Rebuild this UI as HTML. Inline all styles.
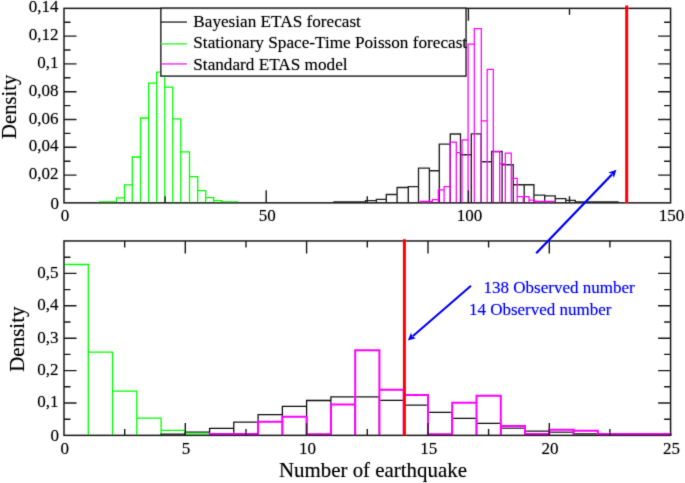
<!DOCTYPE html>
<html><head><meta charset="utf-8"><style>
html,body{margin:0;padding:0;background:#fff;}
svg{display:block;}
</style></head><body>
<svg width="685" height="483" viewBox="0 0 685 483">
<defs><filter id="bl" filterUnits="userSpaceOnUse" x="0" y="0" width="685" height="483"><feConvolveMatrix order="3" kernelMatrix="0.0113 0.0838 0.0113 0.0838 0.6193 0.0838 0.0113 0.0838 0.0113" edgeMode="duplicate"/></filter><filter id="bt" filterUnits="userSpaceOnUse" x="0" y="0" width="685" height="483"><feConvolveMatrix order="3" kernelMatrix="0.0113 0.0838 0.0113 0.0838 0.6193 0.0838 0.0113 0.0838 0.0113" edgeMode="none" preserveAlpha="false"/><feComponentTransfer><feFuncA type="gamma" amplitude="1" exponent="0.8" offset="0"/></feComponentTransfer></filter></defs>
<rect width="685" height="483" fill="#fff"/>
<g filter="url(#bl)">
<path d="M99.4 202.8V201.9H116.5V202.8M116.5 202.8V197.8H124.5V202.8M124.5 202.8V184.9H132.3V202.8M132.3 202.8V157.0H140.5V202.8M140.5 202.8V118.0H148.6V202.8M148.6 202.8V83.2H156.7V202.8M156.7 202.8V72.2H164.8V202.8M164.8 202.8V87.2H172.8V202.8M172.8 202.8V118.8H180.8V202.8M180.8 202.8V151.9H189.5V202.8M189.5 202.8V176.7H197.7V202.8M197.7 202.8V190.6H205.7V202.8M205.7 202.8V197.7H213.7V202.8M213.7 202.8V200.6H221.7V202.8M221.7 202.8V201.9H237.6V202.8" fill="none" stroke="#00ff00" stroke-width="1.3" stroke-linejoin="miter"/>
<path d="M334.0 202.8V201.8H365.5V202.8M365.5 202.8V200.6H376.4V202.8M376.4 202.8V199.4H386.3V202.8M386.3 202.8V194.5H397.1V202.8M397.1 202.8V187.5H408.3V202.8M408.3 202.8V186.6H418.5V202.8M418.5 202.8V168.1H429.4V202.8M429.4 202.8V170.7H439.3V202.8M439.3 202.8V144.1H450.3V202.8M450.3 202.8V134.0H460.5V202.8M460.5 202.8V154.7H471.3V202.8M471.3 202.8V133.9H481.1V202.8M481.1 202.8V161.7H491.7V202.8M491.7 202.8V151.5H502.1V202.8M502.1 202.8V164.7H513.2V202.8M513.2 202.8V184.7H524.2V202.8M524.2 202.8V184.7H533.9V202.8M533.9 202.8V195.1H544.7V202.8M544.7 202.8V195.9H555.2V202.8M555.2 202.8V198.6H565.8V202.8M565.8 202.8V200.4H575.3V202.8M575.3 202.8V201.8H618.0V202.8" fill="none" stroke="#222" stroke-width="1.35" stroke-linejoin="miter"/>
<path d="M420.2 202.8V201.4H432.4V202.8M432.4 202.8V199.7H438.3V202.8M438.3 202.8V189.9H444.1V202.8M444.1 202.8V186.5H450.1V202.8M450.1 202.8V142.0H456.3V202.8M456.3 202.8V152.7H462.0V202.8M462.0 202.8V139.8H468.1V202.8M468.1 202.8V44.2H474.3V202.8M474.3 202.8V28.6H481.3V202.8M481.3 202.8V120.9H487.2V202.8M487.2 202.8V69.3H493.3V202.8M493.3 202.8V151.5H499.7V202.8M499.7 202.8V163.8H505.3V202.8M505.3 202.8V153.0H511.3V202.8M511.3 202.8V178.4H517.2V202.8M517.2 202.8V196.6H523.2V202.8M523.2 202.8V196.6H529.0V202.8M529.0 202.8V200.2H534.7V202.8M534.7 202.8V201.3H553.9V202.8" fill="none" stroke="#ff00ff" stroke-width="1.25" stroke-linejoin="miter"/>
<path d="M64.0 264.5H88.3V435.4M88.3 435.4V352.2H112.5V435.4M112.5 435.4V391.1H136.8V435.4M136.8 435.4V418.1H161.1V435.4M161.1 435.4V430.3H185.3V435.4M185.3 435.4V433.9H209.6V435.4" fill="none" stroke="#00ff00" stroke-width="1.3" stroke-linejoin="miter"/>
<path d="M161.1 435.4V434.2H185.3V435.4M185.3 435.4V432.2H209.6V435.4M209.6 435.4V428.3H233.8V435.4M233.8 435.4V422.2H258.1V435.4M258.1 435.4V414.7H282.4V435.4M282.4 435.4V406.4H306.6V435.4M306.6 435.4V400.5H330.9V435.4M330.9 435.4V396.8H355.2V435.4M355.2 435.4V396.8H379.4V435.4M379.4 435.4V400.4H403.7V435.4M403.7 435.4V405.2H428.0V435.4M428.0 435.4V412.3H452.2V435.4M452.2 435.4V418.4H476.5V435.4M476.5 435.4V423.3H500.8V435.4M500.8 435.4V428.1H525.0V435.4M525.0 435.4V431.2H549.3V435.4M549.3 435.4V432.2H573.5V435.4M573.5 435.4V433.8H597.8V435.4M597.8 435.4V434.3H622.1V435.4M622.1 435.4V434.3H646.3V435.4M646.3 435.4V434.3H670.6V435.4" fill="none" stroke="#111" stroke-width="1.3" stroke-linejoin="miter"/>
<path d="M209.6 435.4V434.1H233.8V435.4M233.8 435.4V434.1H258.1V435.4M258.1 435.4V421.7H282.4V435.4M282.4 435.4V416.7H306.6V435.4M306.6 435.4V434.2H330.9V435.4M330.9 435.4V404.6H355.2V435.4M355.2 435.4V350.3H379.4V435.4M379.4 435.4V389.8H403.7V435.4M403.7 435.4V394.9H428.0V435.4M428.0 435.4V434.3H452.2V435.4M452.2 435.4V402.7H476.5V435.4M476.5 435.4V395.8H500.8V435.4M500.8 435.4V425.9H525.0V435.4M525.0 435.4V433.9H549.3V435.4M549.3 435.4V429.8H573.5V435.4M573.5 435.4V430.7H597.8V435.4M597.8 435.4V434.0H622.1V435.4M622.1 435.4V434.0H646.3V435.4M646.3 435.4V434.0H670.6V435.4" fill="none" stroke="#ff00ff" stroke-width="2.0" stroke-linejoin="miter"/>
<path d="M266.2 202.85v-12.5M266.2 8.35v12.5M468.4 202.85v-12.5M468.4 8.35v12.5M165.1 202.85v-6.5M165.1 8.35v6.5M367.3 202.85v-6.5M367.3 8.35v6.5M569.5 202.85v-6.5M569.5 8.35v6.5M64.0 175.1h12.5M670.6 175.1h-12.5M64.0 147.3h12.5M670.6 147.3h-12.5M64.0 119.5h12.5M670.6 119.5h-12.5M64.0 91.7h12.5M670.6 91.7h-12.5M64.0 63.9h12.5M670.6 63.9h-12.5M64.0 36.1h12.5M670.6 36.1h-12.5M64.0 189.0h6.5M670.6 189.0h-6.5M64.0 161.2h6.5M670.6 161.2h-6.5M64.0 133.4h6.5M670.6 133.4h-6.5M64.0 105.6h6.5M670.6 105.6h-6.5M64.0 77.8h6.5M670.6 77.8h-6.5M64.0 50.0h6.5M670.6 50.0h-6.5M64.0 22.2h6.5M670.6 22.2h-6.5" stroke="#1a1a1a" stroke-width="1.4" fill="none"/>
<rect x="64.0" y="8.35" width="606.6" height="194.5" fill="none" stroke="#1a1a1a" stroke-width="1.5"/>
<path d="M185.3 435.4v-12.5M185.3 240.95v12.5M306.6 435.4v-12.5M306.6 240.95v12.5M428.0 435.4v-12.5M428.0 240.95v12.5M549.3 435.4v-12.5M549.3 240.95v12.5M124.7 435.4v-6.5M124.7 240.95v6.5M246.0 435.4v-6.5M246.0 240.95v6.5M367.3 435.4v-6.5M367.3 240.95v6.5M488.6 435.4v-6.5M488.6 240.95v6.5M609.9 435.4v-6.5M609.9 240.95v6.5M64.0 403.0h12.5M670.6 403.0h-12.5M64.0 370.6h12.5M670.6 370.6h-12.5M64.0 338.2h12.5M670.6 338.2h-12.5M64.0 305.8h12.5M670.6 305.8h-12.5M64.0 273.4h12.5M670.6 273.4h-12.5M64.0 419.2h6.5M670.6 419.2h-6.5M64.0 386.8h6.5M670.6 386.8h-6.5M64.0 354.4h6.5M670.6 354.4h-6.5M64.0 322.0h6.5M670.6 322.0h-6.5M64.0 289.6h6.5M670.6 289.6h-6.5M64.0 257.2h6.5M670.6 257.2h-6.5" stroke="#1a1a1a" stroke-width="1.4" fill="none"/>
<rect x="64.0" y="240.95" width="606.6" height="194.4" fill="none" stroke="#1a1a1a" stroke-width="1.5"/>
<line x1="626.7" y1="5.5" x2="626.7" y2="202.85" stroke="#ff0000" stroke-width="3"/>
<line x1="404.4" y1="239.2" x2="404.4" y2="435.4" stroke="#ff0000" stroke-width="3"/>
<rect x="160.9" y="8.35" width="305.1" height="67.7" fill="#fff" stroke="#1a1a1a" stroke-width="1.5"/>
<line x1="161" y1="22.1" x2="187" y2="22.1" stroke="#111" stroke-width="1.4"/>
<line x1="161" y1="43.8" x2="187" y2="43.8" stroke="#00ff00" stroke-width="1.4"/>
<line x1="161" y1="63.9" x2="187" y2="63.9" stroke="#ff00ff" stroke-width="1.4"/>
<line x1="536.2" y1="253.2" x2="611.9" y2="174.5" stroke="#0000ff" stroke-width="2.3" stroke-linecap="butt"/>
<path d="M616.4 169.8L613.9 177.8L612.2 174.1L608.5 172.6Z" fill="#0000ff"/>
<line x1="471.0" y1="285.8" x2="412.7" y2="336.2" stroke="#0000ff" stroke-width="2.1" stroke-linecap="butt"/>
<path d="M407.8 340.4L411.0 332.7L412.3 336.5L415.9 338.3Z" fill="#0000ff"/>
</g>
<g filter="url(#bt)">
<g font-family='"Liberation Serif", serif' font-size="17.2" fill="#000" stroke="#000" stroke-width="0.0">
<text x="193.3" y="26.8" >Bayesian ETAS forecast</text>
<text x="193.3" y="48.4" >Stationary Space-Time Poisson forecast</text>
<text x="193.3" y="70.3" >Standard ETAS model</text>
</g>
<g font-family='"Liberation Serif", serif' font-size="17" fill="#000" stroke="#000" stroke-width="0.0">
<text x="58.9" y="208.5" text-anchor="end">0</text>
<text x="58.4" y="179.2" text-anchor="end">0,02</text>
<text x="58.4" y="151.4" text-anchor="end">0,04</text>
<text x="58.4" y="123.6" text-anchor="end">0,06</text>
<text x="58.4" y="95.8" text-anchor="end">0,08</text>
<text x="58.4" y="68.0" text-anchor="end">0,1</text>
<text x="58.4" y="40.2" text-anchor="end">0,12</text>
<text x="58.4" y="12.4" text-anchor="end">0,14</text>
<text x="65.0" y="221.2" text-anchor="middle">0</text>
<text x="267.2" y="221.2" text-anchor="middle">50</text>
<text x="469.4" y="221.2" text-anchor="middle">100</text>
<text x="671.6" y="221.2" text-anchor="middle">150</text>
<text x="58.9" y="441.1" text-anchor="end">0</text>
<text x="58.4" y="407.3" text-anchor="end">0,1</text>
<text x="58.4" y="374.9" text-anchor="end">0,2</text>
<text x="58.4" y="342.5" text-anchor="end">0,3</text>
<text x="58.4" y="310.1" text-anchor="end">0,4</text>
<text x="58.4" y="277.7" text-anchor="end">0,5</text>
<text x="64.8" y="454.0" text-anchor="middle">0</text>
<text x="186.1" y="454.0" text-anchor="middle">5</text>
<text x="307.4" y="454.0" text-anchor="middle">10</text>
<text x="428.8" y="454.0" text-anchor="middle">15</text>
<text x="550.1" y="454.0" text-anchor="middle">20</text>
<text x="671.4" y="454.0" text-anchor="middle">25</text>
</g>
<text x="279" y="476.5" font-family='"Liberation Serif", serif' font-size="20.9" stroke="#000" stroke-width="0.0">Number of earthquake</text>
<text transform="translate(15.5 106.8) rotate(-90)" text-anchor="middle" font-family='"Liberation Serif", serif' font-size="20.7" stroke="#000" stroke-width="0.0">Density</text>
<text transform="translate(23.7 339.2) rotate(-90)" text-anchor="middle" font-family='"Liberation Serif", serif' font-size="21" stroke="#000" stroke-width="0.0">Density</text>
<g font-family='"Liberation Serif", serif' font-size="17" fill="#0000ff" stroke="#0000ff" stroke-width="0.0">
<text x="483.6" y="293.0" >138 Observed number</text>
<text x="468.9" y="314.9" >14 Observed number</text>
</g>
</g>
</svg>
</body></html>
